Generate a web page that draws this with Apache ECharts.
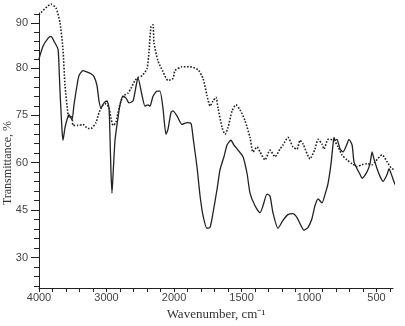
<!DOCTYPE html>
<html>
<head>
<meta charset="utf-8">
<script src="https://cdn.jsdelivr.net/npm/echarts@6/dist/echarts.min.js"></script>
<style>
  html, body { margin: 0; padding: 0; background: #fff; }
  #chart { width: 405px; height: 326px; }
</style>
</head>
<body>
<div id="chart"></div>
<script>
// spectra: [wavenumber cm-1, transmittance (axis units)]
var solidSpectrum = [
  [4000, 92.8], [3941, 96.8], [3867, 99.3], [3822, 99.9], [3778, 98.4], [3719, 95.9],
  [3704, 90.6], [3689, 82.6], [3659, 70.2], [3645, 67.1], [3615, 71.1], [3585, 73.6],
  [3556, 75.2], [3511, 73.6], [3482, 78.3], [3437, 84.4], [3408, 87.5], [3348, 89.1],
  [3304, 88.8], [3230, 88.1], [3185, 87.2], [3141, 84.4], [3111, 79.5], [3082, 77.3],
  [3037, 78.9], [2993, 79.5], [2963, 77.3], [2948, 68.0], [2934, 57.2], [2919, 50.4],
  [2904, 55.7], [2874, 67.1], [2830, 74.2], [2800, 78.3], [2756, 81.0], [2711, 80.4],
  [2667, 78.9], [2608, 79.5], [2563, 84.1], [2534, 86.9], [2474, 81.3], [2430, 77.9],
  [2386, 78.3], [2356, 77.9], [2311, 81.0], [2252, 82.6], [2208, 82.6], [2164, 77.3],
  [2119, 69.0], [2090, 70.5], [2045, 75.8], [2015, 76.4], [1978, 74.8], [1941, 72.1],
  [1904, 72.7], [1874, 72.4], [1859, 68.0], [1830, 58.8], [1807, 49.5], [1785, 43.3],
  [1756, 39.3], [1733, 39.6], [1711, 44.2], [1681, 51.7], [1659, 57.8], [1630, 61.9],
  [1607, 65.6], [1578, 67.1], [1556, 65.6], [1526, 64.0], [1489, 61.9], [1459, 56.6],
  [1437, 50.4], [1400, 46.4], [1363, 44.2], [1341, 46.4], [1311, 50.1], [1289, 49.5],
  [1267, 44.2], [1230, 39.3], [1193, 41.8], [1156, 43.6], [1119, 43.9], [1089, 42.7],
  [1067, 40.8], [1037, 38.7], [1007, 39.6], [978, 42.4], [956, 46.4], [933, 48.6],
  [904, 47.3], [881, 50.1], [859, 53.5], [837, 59.7], [822, 65.9], [815, 68.0],
  [807, 67.1], [793, 67.4], [770, 64.3], [748, 63.4], [719, 65.9], [704, 67.4],
  [681, 65.6], [667, 60.3], [644, 58.1], [622, 56.3], [607, 55.1], [570, 57.2],
  [548, 59.7], [533, 63.4], [519, 61.2], [496, 58.1], [474, 55.7], [452, 54.1],
  [422, 56.3], [407, 58.1], [385, 55.7], [363, 53.2], [333, 51.7]
];

var dottedSpectrum = [
  [4000, 106.7], [3822, 110.1], [3748, 108.9], [3689, 104.2], [3645, 95.9], [3615, 84.4],
  [3570, 75.2], [3556, 74.2], [3511, 74.8], [3496, 71.8], [3422, 71.8], [3348, 72.1],
  [3274, 70.8], [3230, 70.8], [3156, 72.7], [3111, 75.8], [3052, 78.3], [3008, 78.6],
  [2963, 77.3], [2934, 74.2], [2904, 71.8], [2860, 72.7], [2815, 77.3], [2756, 81.0],
  [2682, 82.0], [2637, 83.5], [2578, 86.0], [2534, 86.9], [2474, 87.5], [2400, 89.7],
  [2371, 95.0], [2341, 103.0], [2311, 103.6], [2297, 98.0], [2238, 92.2], [2164, 88.8],
  [2090, 86.0], [2015, 86.6], [1993, 89.1], [1941, 90.3], [1881, 90.3], [1822, 89.4],
  [1785, 86.6], [1756, 81.3], [1733, 77.9], [1711, 79.5], [1689, 80.7], [1674, 77.3],
  [1644, 71.1], [1622, 69.0], [1600, 71.1], [1570, 76.4], [1541, 78.3], [1511, 76.7],
  [1474, 73.3], [1437, 68.0], [1415, 63.4], [1385, 65.0], [1363, 63.4], [1326, 60.9],
  [1289, 64.0], [1252, 61.9], [1215, 64.3], [1193, 65.6], [1156, 68.0], [1119, 65.0],
  [1089, 64.3], [1067, 67.1], [1044, 65.9], [993, 61.2], [956, 64.3], [933, 67.4],
  [904, 65.9], [889, 64.3], [859, 67.4], [815, 67.1], [785, 65.0], [756, 62.5],
  [719, 60.9], [681, 59.7], [644, 58.8], [607, 59.4], [570, 59.7], [533, 59.4],
  [511, 60.3], [459, 62.5], [422, 60.3], [385, 58.1], [326, 57.8]
];

var xLabelValues = [4000, 3000, 2000, 1500, 1000, 500];
var yTickValues = [30, 45, 60, 75, 90, 104];
var yTickText = ['30', '45', '60', '75', '80', '90'];

// the wavenumber axis changes scale at 2000 cm-1 (half the compression below)
function toAxis(w) {
  return w >= 2000 ? (4000 - w) / 2 : 3000 - w;
}
function fromAxis(u) {
  return u <= 1000 ? 4000 - 2 * u : 3000 - u;
}

var xTicks = [];
for (var w = 4000; w >= 2000; w -= 200) xTicks.push(toAxis(w));
for (var w2 = 1900; w2 >= 400; w2 -= 100) xTicks.push(toAxis(w2));

var yTicks = [];
for (var t = 21; t <= 90; t += 3) yTicks.push(t);
for (var t2 = 1; t2 <= 6; t2++) yTicks.push(90 + t2 * 2.8);

function mapSeries(arr) {
  return arr.map(function (p) { return [toAxis(p[0]), p[1]]; });
}

var chart = echarts.init(document.getElementById('chart'));

var labelStyle = {
  fontFamily: 'Liberation Sans',
  fontSize: 11,
  color: '#444'
};
var Y_MIN = 20.4, Y_MAX = 107.3;

var option = {
  backgroundColor: '#fff',
  animation: false,
  grid: { left: 39, right: 12, top: 13, bottom: 32 },
  xAxis: {
    type: 'value',
    min: 0,
    max: toAxis(378),
    name: 'Wavenumber, cm\u207B\u00B9',
    nameLocation: 'middle',
    nameGap: 15,
    nameTextStyle: { fontFamily: 'Liberation Serif', fontSize: 13, color: '#333' },
    splitLine: { show: false },
    axisLine: { lineStyle: { color: '#222', width: 1 } },
    axisTick: { customValues: xTicks, length: 4, lineStyle: { color: '#222' } },
    axisLabel: Object.assign({
      customValues: xLabelValues.map(toAxis),
      margin: 4,
      formatter: function (v) { return String(Math.round(fromAxis(v))); }
    }, labelStyle)
  },
  yAxis: [{
    type: 'value',
    min: Y_MIN,
    max: Y_MAX,
    splitLine: { show: false },
    axisLine: { show: true, lineStyle: { color: '#222', width: 1 } },
    axisTick: { show: true, customValues: yTicks, length: 5, lineStyle: { color: '#222' } },
    axisLabel: Object.assign({
      customValues: yTickValues,
      margin: 11,
      formatter: function (v) {
        var i = yTickValues.indexOf(v);
        return i >= 0 ? yTickText[i] : '';
      }
    }, labelStyle)
  }, {
    // longer ticks at the labelled values
    type: 'value',
    position: 'left',
    min: Y_MIN,
    max: Y_MAX,
    splitLine: { show: false },
    axisLine: { show: false },
    axisLabel: { show: false },
    axisTick: { show: true, customValues: yTickValues, length: 8, lineStyle: { color: '#222' } }
  }],
  graphic: [{
    type: 'text',
    x: 8,
    y: 163,
    rotation: Math.PI / 2,
    style: {
      text: 'Transmittance, %',
      fontFamily: 'Liberation Serif',
      fontSize: 12,
      fill: '#333',
      align: 'center',
      verticalAlign: 'middle'
    }
  }],
  series: [{
    name: 'solid',
    type: 'line',
    data: mapSeries(solidSpectrum),
    showSymbol: false,
    smooth: 0.2,
    clip: false,
    lineStyle: { color: '#222', width: 1.3 }
  }, {
    name: 'dotted',
    type: 'line',
    data: mapSeries(dottedSpectrum),
    showSymbol: false,
    smooth: 0.2,
    clip: false,
    lineStyle: { color: '#222', width: 1.6, type: 'dotted' }
  }]
};

chart.setOption(option);
</script>
</body>
</html>
